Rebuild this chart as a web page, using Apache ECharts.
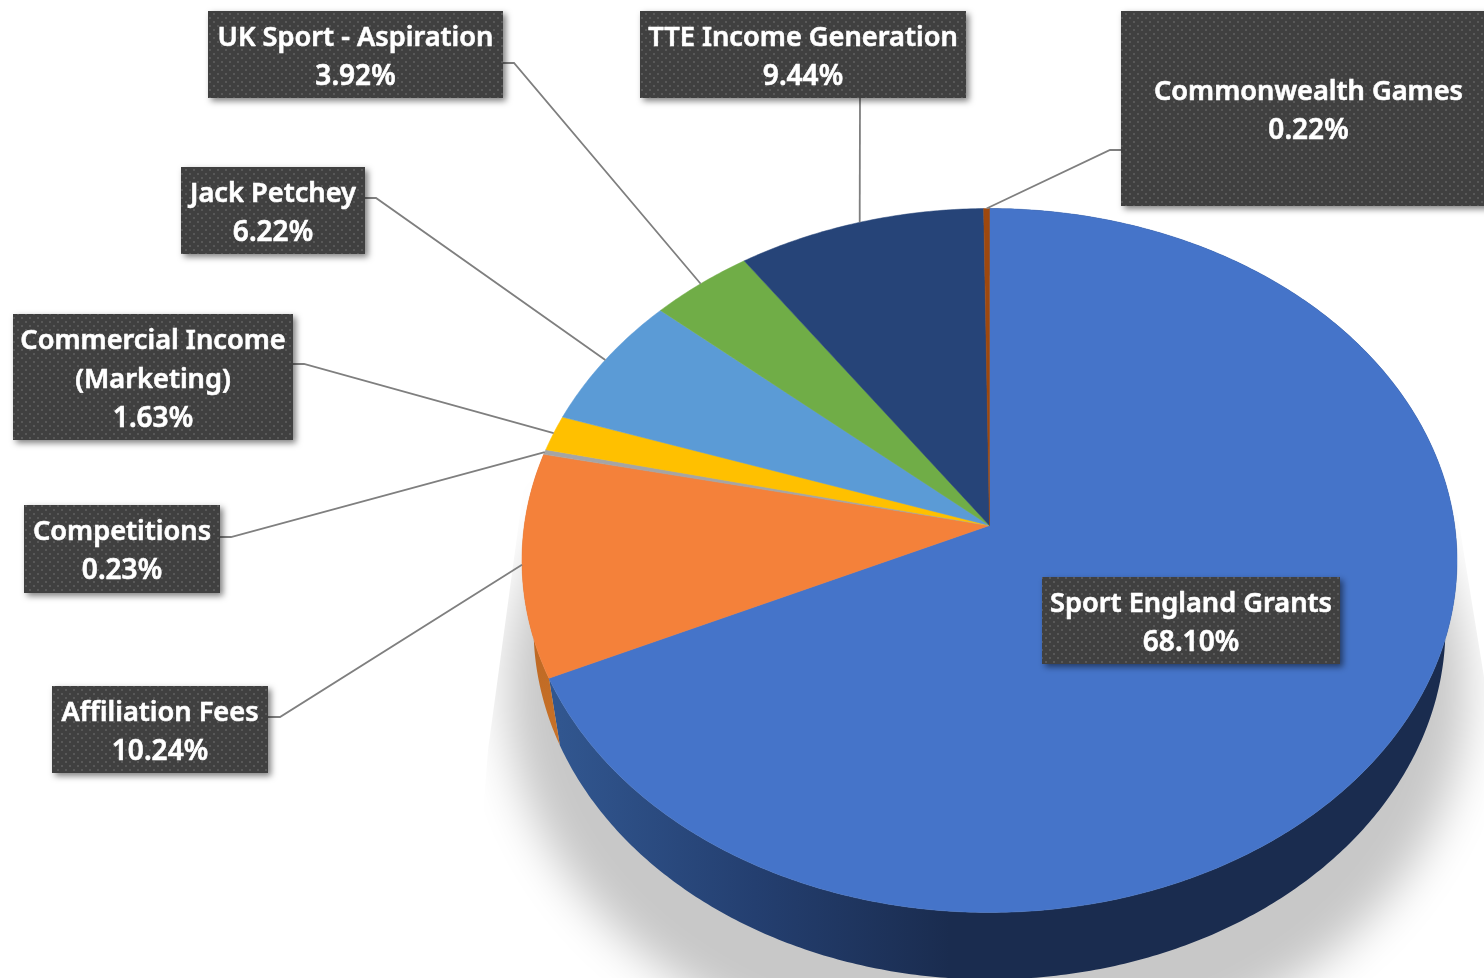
<!DOCTYPE html>
<html lang="en">
<head>
    <meta charset="UTF-8">
    <title>Income sources</title>
    <script src="https://cdn.jsdelivr.net/npm/echarts@6/dist/echarts.min.js"></script>
    <style>
        html, body { margin: 0; padding: 0; background: #fff; }
        #chart { width: 1484px; height: 978px; overflow: hidden; }
    </style>
</head>
<body>
    <div id="chart"></div>
<script>
    // clockwise from 12 o'clock
    var categories = ['Sport England Grants', 'Affiliation Fees', 'Competitions', 'Commercial Income\n(Marketing)',
        'Jack Petchey', 'UK Sport - Aspiration', 'TTE Income Generation', 'Commonwealth Games'];
    var shares = [68.10, 10.24, 0.23, 1.63, 6.22, 3.92, 9.44, 0.22];
    var sliceColors = ['#4574c9', '#f4813a', '#a5a5a5', '#ffc000', '#5b9bd6', '#70ad47', '#264478', '#9e480e'];

    // box = [left, top, right, bottom], line = leader line start and elbow
    var labelLayout = [
        {box: [1042, 577, 1340, 664], line: null},
        {box: [52, 686, 268, 773], line: [[268, 717], [280, 717]]},
        {box: [24, 505, 220, 593], line: [[220, 537], [231, 537]]},
        {box: [13, 314, 293, 440], line: [[293, 364], [304, 364]]},
        {box: [181, 167, 365, 254], line: [[365, 198], [376, 198]]},
        {box: [208, 11, 503, 98], line: [[503, 63], [514, 63]]},
        {box: [640, 11, 966, 98], line: [[860, 98], [860, 98]]},
        {box: [1121, 11, 1496, 206], line: [[1121, 150], [1110, 150]]}
    ];

    // the tilted pie: unit circle projected with a small perspective
    var topFace = {x: 989.5, y: 525.5, rx: 465.2, ry: 348.5, k: -0.0994};
    var bottomFace = {x: 989.5, y: 592.5, rx: 453.7, ry: 348.5, k: -0.0994};

    function project(face, angle) {
        var u = Math.sin(angle), v = -Math.cos(angle);
        var w = 1 + face.k * v;
        return [face.x + face.rx * u / w, face.y + face.ry * v / w];
    }
    function rim(face, from, to) {
        var pts = [];
        var n = Math.max(2, Math.ceil(Math.abs(to - from) / 0.01));
        for (var i = 0; i <= n; i++) {
            pts.push(project(face, from + (to - from) * i / n));
        }
        return pts;
    }
    function startAngle(idx) {
        var sum = 0;
        for (var i = 0; i < idx; i++) sum += shares[i];
        return sum / 100 * Math.PI * 2;
    }
    function endAngle(idx) {
        return startAngle(idx) + shares[idx] / 100 * Math.PI * 2;
    }

    function dotPattern() {
        var c = document.createElement('canvas');
        c.width = 8;
        c.height = 8;
        var ctx = c.getContext('2d');
        ctx.fillStyle = '#404040';
        ctx.fillRect(0, 0, 8, 8);
        ctx.fillStyle = '#585858';
        ctx.fillRect(1, 1, 2, 2);
        ctx.fillRect(5, 5, 2, 2);
        return c;
    }
    var pattern = {image: dotPattern(), repeat: 'repeat'};

    var wallFills = [
        {type: 'linear', x: 560, y: 0, x2: 950, y2: 0, global: true, colorStops: [
            {offset: 0, color: '#31568f'}, {offset: 0.5, color: '#243f70'}, {offset: 1, color: '#1a2c4f'}]},
        {type: 'linear', x: 530, y: 640, x2: 560, y2: 745, global: true, colorStops: [
            {offset: 0, color: '#bd6824'}, {offset: 1, color: '#c97228'}]}
    ];

    // the shape sits off the canvas, only its blurred shadow lands on the page
    var shadowShift = 3000;
    function renderShadow() {
        var pts = [];
        for (var i = 0; i < 180; i++) {
            var a = i / 180 * Math.PI * 2;
            pts.push([987 - shadowShift + 480 * Math.cos(a), 690 + 378 * Math.sin(a)]);
        }
        return {
            type: 'polygon',
            shape: {points: pts},
            style: {fill: '#000', shadowColor: '#c8c8c8', shadowBlur: 45, shadowOffsetX: shadowShift},
            clipPath: {
                type: 'polygon',
                shape: {points: [[526, 470], [488, 750], [470, 978], [1484, 978], [1484, 677], [1465, 560], [1457, 510], [1000, 300]]}
            },
            silent: true
        };
    }

    function renderWall(params, api) {
        var idx = api.value(0);
        if (!wallFills[idx]) return null;
        var a0 = startAngle(idx), a1 = endAngle(idx);
        var pts = rim(topFace, a0, a1).concat(rim(bottomFace, a1, a0));
        return {type: 'polygon', shape: {points: pts}, style: {fill: wallFills[idx]}, silent: true};
    }

    function renderSlice(params, api) {
        var idx = api.value(0);
        var pts = [[topFace.x, topFace.y]].concat(rim(topFace, startAngle(idx), endAngle(idx)));
        return {
            type: 'polygon',
            shape: {points: pts},
            style: {fill: sliceColors[idx], stroke: sliceColors[idx], lineWidth: 0.5}
        };
    }

    function renderLeader(params, api) {
        var idx = api.value(0);
        var layout = labelLayout[idx];
        if (!layout.line) return null;
        var end = project(topFace, (startAngle(idx) + endAngle(idx)) / 2);
        return {
            type: 'polyline',
            shape: {points: layout.line.concat([end])},
            style: {fill: null, stroke: '#7f7f7f', lineWidth: 1.8},
            silent: true
        };
    }

    function renderLabel(params, api) {
        var idx = api.value(0);
        var b = labelLayout[idx].box;
        var name = categories[idx].split('\n').map(function (s) { return '{n|' + s + '}'; }).join('\n');
        return {
            type: 'group',
            children: [{
                type: 'rect',
                shape: {x: b[0], y: b[1], width: b[2] - b[0], height: b[3] - b[1]},
                style: {fill: pattern, shadowColor: 'rgba(0,0,0,0.5)', shadowBlur: 6, shadowOffsetX: 3, shadowOffsetY: 3}
            }, {
                type: 'text',
                x: (b[0] + b[2]) / 2,
                y: (b[1] + b[3]) / 2 + 3,
                style: {
                    text: name + '\n{p|' + shares[idx].toFixed(2) + '%}',
                    align: 'center',
                    verticalAlign: 'middle',
                    rich: {
                        n: {fill: '#fff', stroke: '#fff', lineWidth: 0.6, font: '600 27.2px "Noto Sans"', lineHeight: 39},
                        p: {fill: '#fff', stroke: '#fff', lineWidth: 0.6, font: '600 28px "Noto Sans"', lineHeight: 39}
                    }
                }
            }]
        };
    }

    var rows = categories.map(function (name, i) { return [i, shares[i]]; });

    function layer(render, z) {
        return {
            type: 'custom',
            coordinateSystem: 'none',
            renderItem: render,
            data: rows,
            z: z,
            animation: false
        };
    }

    var chart = echarts.init(document.getElementById('chart'));
    chart.setOption({
        animation: false,
        series: [
            {type: 'custom', coordinateSystem: 'none', renderItem: renderShadow, data: [[0]], z: 1, animation: false},
            layer(renderWall, 2),
            layer(renderSlice, 3),
            layer(renderLeader, 4),
            layer(renderLabel, 5)
        ]
    });
</script>
</body>
</html>
